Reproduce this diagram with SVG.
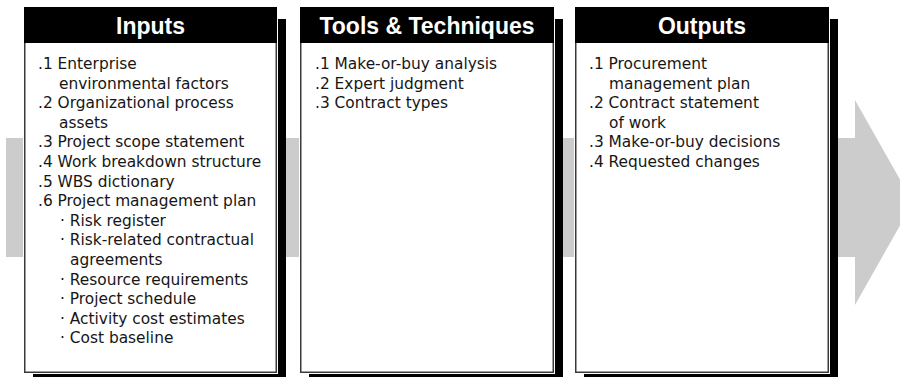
<svg xmlns="http://www.w3.org/2000/svg" width="900" height="377" viewBox="0 0 900 377">
<style>
.shadow{fill:#000}
.box{fill:#fff;stroke:#3a3a3a;stroke-width:1.5}
.hdr{fill:#000}
.title{font-family:"Liberation Sans",Arial,sans-serif;font-weight:bold;font-size:23px;fill:#fff;text-anchor:middle}
.body{font-family:"DejaVu Sans","Liberation Sans",sans-serif;font-size:15.4px;fill:#161616}
.arrow{fill:#cccccc}
</style>
<g id="flow-arrow">
<polygon class="arrow" points="6,138 855,138 855,100 913,202.5 855,305 855,257 6,257"/>
</g>
<g id="connectors"></g>
<g id="inputs">
<rect class="shadow" x="33" y="19" width="253" height="370"/>
<rect x="23" y="6" width="255" height="368" fill="#fff"/>
<rect class="box" x="24.75" y="7.75" width="251.5" height="364.5"/>
<rect class="hdr" x="24" y="7" width="253" height="36"/>
<text class="title" x="150.5" y="34">Inputs</text>
<text class="body">
<tspan x="38" y="69">.1 Enterprise</tspan>
<tspan x="59" y="88.6">environmental factors</tspan>
<tspan x="38" y="108.2">.2 Organizational process</tspan>
<tspan x="59" y="127.8">assets</tspan>
<tspan x="38" y="147.4">.3 Project scope statement</tspan>
<tspan x="38" y="167">.4 Work breakdown structure</tspan>
<tspan x="38" y="186.6">.5 WBS dictionary</tspan>
<tspan x="38" y="206.2">.6 Project management plan</tspan>
<tspan x="60" y="225.8">· Risk register</tspan>
<tspan x="60" y="245.4">· Risk-related contractual</tspan>
<tspan x="70" y="265">agreements</tspan>
<tspan x="60" y="284.6">· Resource requirements</tspan>
<tspan x="60" y="304.2">· Project schedule</tspan>
<tspan x="60" y="323.8">· Activity cost estimates</tspan>
<tspan x="60" y="343.4">· Cost baseline</tspan>
</text>
</g>
<g id="tools">
<rect class="shadow" x="309" y="19" width="254" height="370"/>
<rect x="299" y="6" width="256" height="368" fill="#fff"/>
<rect class="box" x="300.75" y="7.75" width="252.5" height="364.5"/>
<rect class="hdr" x="300" y="7" width="254" height="36"/>
<text class="title" x="427" y="34">Tools &amp; Techniques</text>
<text class="body">
<tspan x="315" y="69">.1 Make-or-buy analysis</tspan>
<tspan x="315" y="88.6">.2 Expert judgment</tspan>
<tspan x="315" y="108.2">.3 Contract types</tspan>
</text>
</g>
<g id="outputs">
<rect class="shadow" x="584" y="19" width="254" height="370"/>
<rect x="574" y="6" width="256" height="368" fill="#fff"/>
<rect class="box" x="575.75" y="7.75" width="252.5" height="364.5"/>
<rect class="hdr" x="575" y="7" width="254" height="36"/>
<text class="title" x="702" y="34">Outputs</text>
<text class="body">
<tspan x="589" y="69">.1 Procurement</tspan>
<tspan x="609" y="88.6">management plan</tspan>
<tspan x="589" y="108.2">.2 Contract statement</tspan>
<tspan x="609" y="127.8">of work</tspan>
<tspan x="589" y="147.4">.3 Make-or-buy decisions</tspan>
<tspan x="589" y="167">.4 Requested changes</tspan>
</text>
</g>
</svg>
